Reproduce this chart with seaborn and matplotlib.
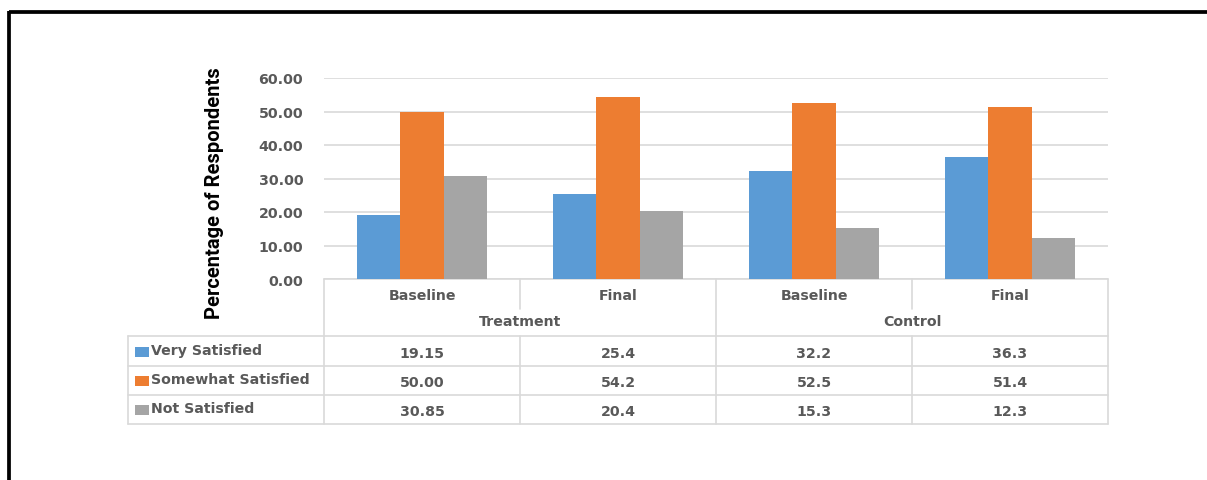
import matplotlib
matplotlib.use("Agg")
import matplotlib.pyplot as plt
from matplotlib import font_manager
from matplotlib.patches import Rectangle
import pandas as pd
import seaborn as sns

# ---- data -------------------------------------------------------------
groups = ["Treatment", "Treatment", "Control", "Control"]
phases = ["Baseline", "Final", "Baseline", "Final"]
series = ["Very Satisfied", "Somewhat Satisfied", "Not Satisfied"]
very_satisfied = ["19.15", "25.4", "32.2", "36.3"]
somewhat_satisfied = ["50.00", "54.2", "52.5", "51.4"]
not_satisfied = ["30.85", "20.4", "15.3", "12.3"]
y_ticks = [0, 10, 20, 30, 40, 50, 60]
colors = ["#5B9BD5", "#ED7D31", "#A5A5A5"]

table_rows = [very_satisfied, somewhat_satisfied, not_satisfied]

# ---- styling ----------------------------------------------------------
sns.set_theme(style="white")
plt.rcParams["font.family"] = ["DejaVu Sans"]

installed = {f.name for f in font_manager.fontManager.ttflist}
label_font = next((f for f in ["Liberation Sans Narrow", "Roboto", "Open Sans"]
                   if f in installed), "DejaVu Sans")

TXT = "#595959"
GRID = "#D9D9D9"
SMALL = 10.2

W, H = 1207, 481
fig = plt.figure(figsize=(W / 100, H / 100), dpi=100)
fig.patch.set_facecolor("white")


def fx(x):
    return x / W


def fy(y):
    return 1 - y / H


# ---- bar chart --------------------------------------------------------
L, R, T, B = 324, 1108, 79, 280
ax = fig.add_axes([fx(L), fy(B), fx(R) - fx(L), fy(T) - fy(B)])

keys = [f"{g}|{p}" for g, p in zip(groups, phases)]
records = []
for name, vals in zip(series, table_rows):
    for k, v in zip(keys, vals):
        records.append({"cat": k, "series": name, "value": float(v)})
df = pd.DataFrame(records)

sns.barplot(data=df, x="cat", y="value", hue="series", order=keys,
            hue_order=series, palette=colors, saturation=1, width=0.665,
            legend=False, ax=ax, zorder=3, linewidth=0, edgecolor="none")

ax.set_xlim(-0.5, len(keys) - 0.5)
ax.set_ylim(0, 60)
ax.set_yticks(y_ticks)
ax.set_yticklabels([f"{t:.2f}" for t in y_ticks], color=TXT,
                   fontsize=SMALL, fontweight="bold")
ax.tick_params(axis="y", length=0, pad=15)
ax.set_xticks([])
ax.set_xlabel("")
ax.set_ylabel("")
for s in ax.spines.values():
    s.set_visible(False)
ax.yaxis.grid(True, color=GRID, linewidth=1.2, zorder=0)
ax.set_axisbelow(True)
ax.set_facecolor("none")

fig.text(fx(215), fy(193), "Percentage of Respondents", rotation=90,
         ha="center", va="center", fontsize=14.5, fontweight="bold",
         family=label_font, color="black")

# ---- data table beneath the chart ------------------------------------
tax = fig.add_axes([0, 0, 1, 1], zorder=-1)
tax.set_xlim(0, W)
tax.set_ylim(H, 0)
tax.axis("off")

LEFT = 128
col_w = (R - L) / len(keys)
col_edges = [L + i * col_w for i in range(len(keys) + 1)]
centers = [L + (i + 0.5) * col_w for i in range(len(keys))]
row_y = [337, 367, 396, 425]
lw = 1.2

# header block
tax.plot([L, R], [B, B], color=GRID, lw=lw)
tax.plot([L, L], [B, row_y[-1]], color=GRID, lw=lw)
tax.plot([R, R], [B, row_y[-1]], color=GRID, lw=lw)
tax.plot([col_edges[2]] * 2, [B, row_y[-1]], color=GRID, lw=lw)
for i in (1, 3):
    tax.plot([col_edges[i]] * 2, [B, 310], color=GRID, lw=lw)
    tax.plot([col_edges[i]] * 2, [row_y[0], row_y[-1]], color=GRID, lw=lw)
# series rows
for y in row_y:
    tax.plot([LEFT, R], [y, y], color=GRID, lw=lw)
tax.plot([LEFT, LEFT], [row_y[0], row_y[-1]], color=GRID, lw=lw)

for c, p in zip(centers, phases):
    tax.text(c, 296, p, ha="center", va="center", color=TXT,
             fontsize=SMALL, fontweight="bold")
for j in (0, 2):
    tax.text((centers[j] + centers[j + 1]) / 2, 322, groups[j],
             ha="center", va="center", color=TXT, fontsize=SMALL,
             fontweight="bold")

for r, (name, vals, col) in enumerate(zip(series, table_rows, colors)):
    yc = (row_y[r] + row_y[r + 1]) / 2
    tax.add_patch(Rectangle((135, yc - 4.5), 14, 10, color=col, lw=0))
    tax.text(151, yc - 1, name, ha="left", va="center", color=TXT,
             fontsize=SMALL, fontweight="bold")
    for c, v in zip(centers, vals):
        tax.text(c, yc + 2, v, ha="center", va="center", color=TXT,
                 fontsize=SMALL, fontweight="bold")

# outer frame (top and left edges)
tax.plot([9, W], [13, 13], color="black", lw=2.7, solid_capstyle="butt")
tax.plot([9, 9], [11.5, H], color="black", lw=2.7, solid_capstyle="butt")

fig.savefig("out.png", dpi=100, facecolor="white")
